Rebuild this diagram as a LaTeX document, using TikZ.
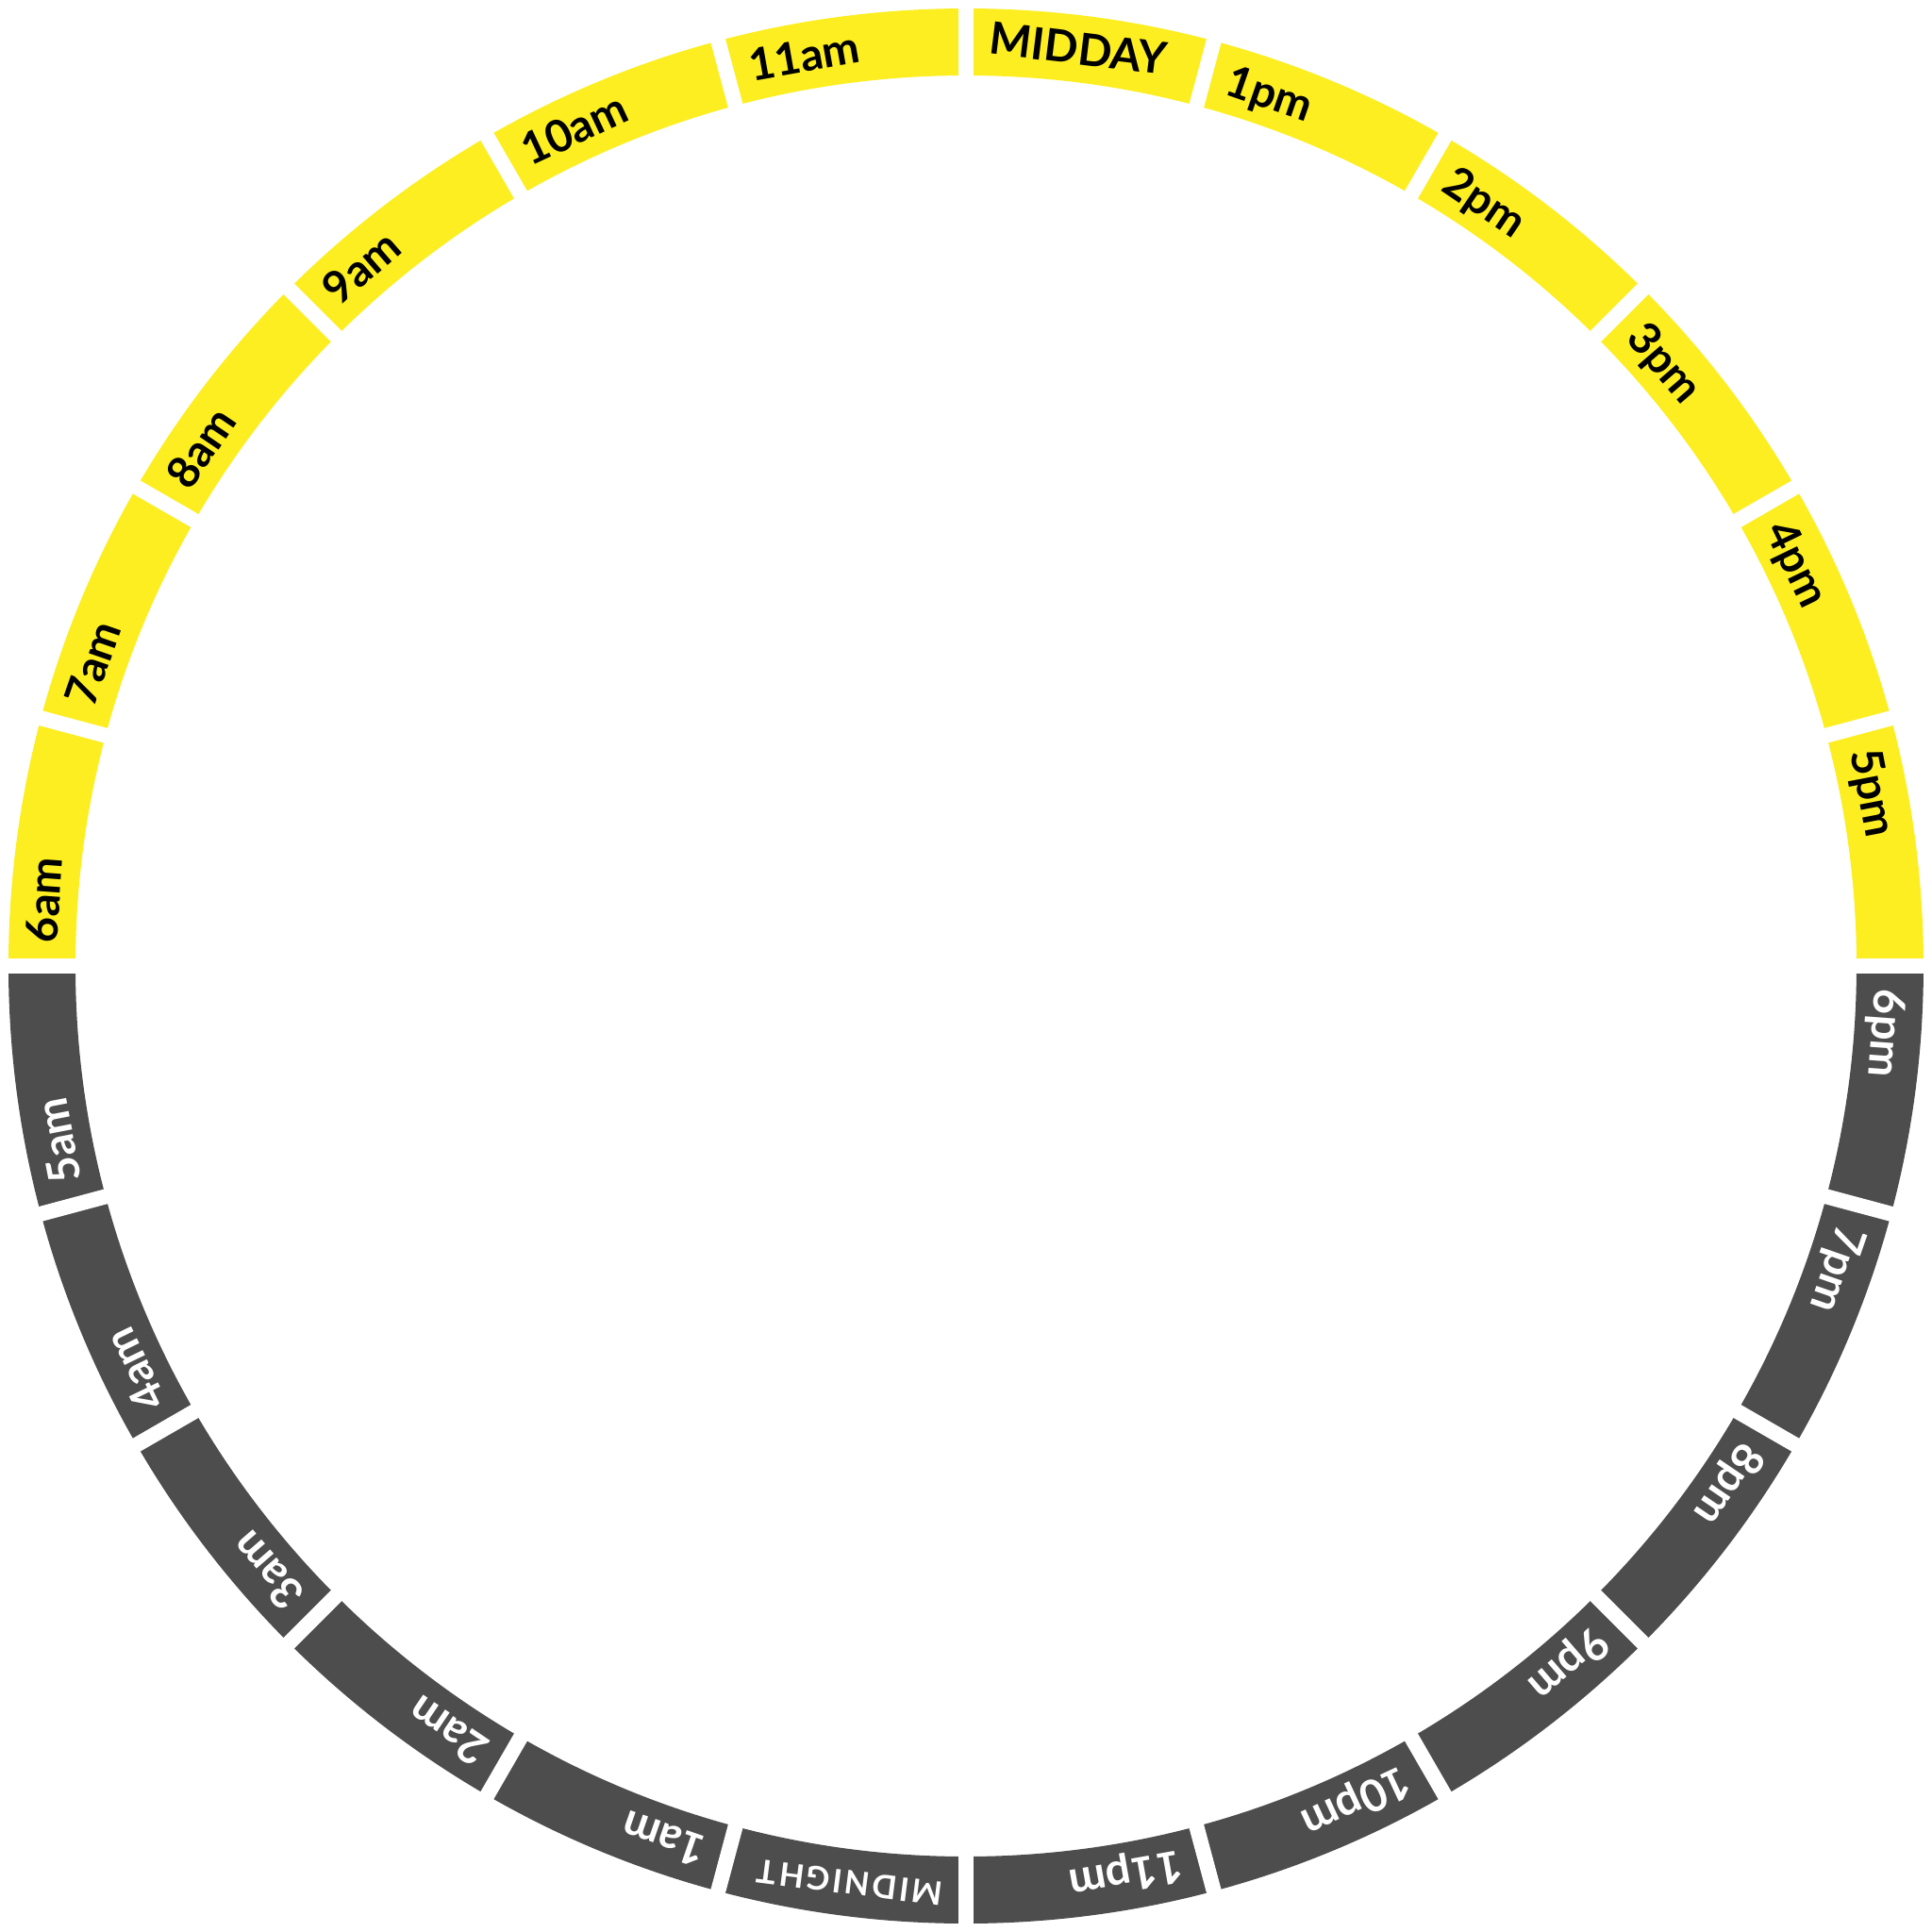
\documentclass[tikz,border=0pt]{standalone}
\usepackage{fontspec}
\setmainfont{Lato}[Numbers=Monospaced]
\newfontfamily\midfamily[LetterSpace=8]{Lato}
\usetikzlibrary{calc}
\definecolor{clockday}{HTML}{FCEE21}
\definecolor{clocknight}{HTML}{4D4D4D}
\newcommand{\hourfont}{\fontsize{13.4}{16}\selectfont\bfseries}
\newcommand{\midfont}{\midfamily\fontsize{9.8}{12}\selectfont\bfseries}
\newlength{\labw}
% measure a label outside the picture's \nullfont
\newcommand{\measurelab}[2]{%
  \pgfinterruptpicture\settowidth{\labw}{#1#2}\global\labw=\labw\endpgfinterruptpicture}
\tikzset{
  %% ---- ring ----
  dayband/.style   = {fill=clockday},
  nightband/.style = {fill=clocknight},
  cut/.style       = {draw=white, line width=1.6mm},
  %% ---- labels ----
  hourlbl/.style   = {inner sep=0pt, anchor=base, font=\hourfont},
  daylbl/.style    = {hourlbl, text=black},
  nightlbl/.style  = {hourlbl, text=white},
  midlbl/.style    = {inner sep=0pt, anchor=base, font=\midfont, text=white},
}

\begin{document}
\begin{tikzpicture}
\useasboundingbox (-10.24,-10.24) rectangle (10.24,10.24);

%% ── ring: day half and night half ─────────────────────────────────────────
\fill[dayband] (0:9.44) -- (0:10.15) arc[start angle=0, end angle=180, radius=10.15]
  -- (180:9.44) arc[start angle=180, end angle=0, radius=9.44] -- cycle;
\fill[nightband] (180:9.44) -- (180:10.15) arc[start angle=180, end angle=360, radius=10.15]
  -- (360:9.44) arc[start angle=360, end angle=180, radius=9.44] -- cycle;

%% ── white cuts between the hours ──────────────────────────────────────────
\foreach \a in {0,15,...,345}
  \draw[cut] (\a:9.3) -- (\a:10.3);

%% ── day labels ────────────────────────────────────────────────────────────
\foreach \h/\lab in {6/6am, 7/7am, 8/8am, 9/9am, 10/10am, 11/11am,
                     12/MIDDAY, 13/1pm, 14/2pm, 15/3pm, 16/4pm, 17/5pm}{
  \measurelab{\hourfont}{\lab}
  \pgfmathsetmacro\ts{270-15*\h}
  \pgfmathsetmacro\phic{\ts-deg((7.11+0.5*\labw)/278.7)}
  \node[daylbl, rotate=\phic-90] (h\h) at (\phic:9.63) {\lab};
}

%% ── night labels ──────────────────────────────────────────────────────────
\foreach \h/\lab in {18/6pm, 19/7pm, 20/8pm, 21/9pm, 22/10pm, 23/11pm,
                     25/1am, 26/2am, 27/3am, 28/4am, 29/5am}{
  \measurelab{\hourfont}{\lab}
  \pgfmathsetmacro\ts{270-15*\h}
  \pgfmathsetmacro\phic{\ts-deg((7.11+0.5*\labw)/278.7)}
  \node[nightlbl, rotate=\phic-90] (h\h) at (\phic:9.63) {\lab};
}

%% ── midnight ──────────────────────────────────────────────────────────────
\measurelab{\midfont}{MIDNIGHT}
\pgfmathsetmacro\phic{-90-deg((7.11+0.5*\labw)/278.7)}
\node[midlbl, rotate=\phic-90] (h24) at (\phic:9.67) {MIDNIGHT};

\end{tikzpicture}
\end{document}
